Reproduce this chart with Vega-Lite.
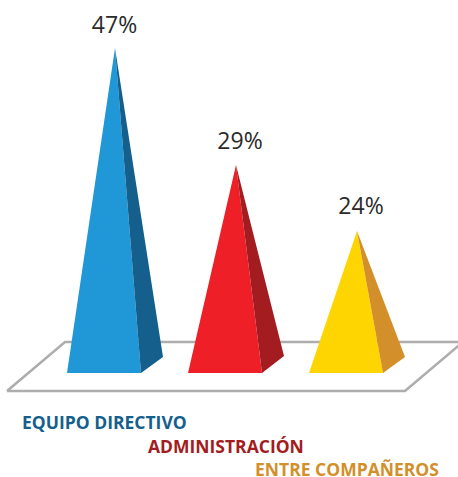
{"$schema":"https://vega.github.io/schema/vega-lite/v6.json","width":458,"height":477,"padding":0,"autosize":"none","background":"white","view":{"stroke":null},
"datasets":{
"platform":[{"i":1,"x":7,"y":391},{"i":2,"x":65,"y":342},{"i":3,"x":463,"y":342},{"i":4,"x":405,"y":391},{"i":5,"x":7,"y":391}],
"faces":[
{"part":"EQUIPO DIRECTIVO front","x":67,"y":373,"y2":373},{"part":"EQUIPO DIRECTIVO front","x":115,"y":48,"y2":373},{"part":"EQUIPO DIRECTIVO front","x":141,"y":373,"y2":373},
{"part":"EQUIPO DIRECTIVO side","x":115,"y":48,"y2":48},{"part":"EQUIPO DIRECTIVO side","x":141,"y":215.4,"y2":373},{"part":"EQUIPO DIRECTIVO side","x":163,"y":357,"y2":357},
{"part":"ADMINISTRACIÓN front","x":188,"y":373,"y2":373},{"part":"ADMINISTRACIÓN front","x":236,"y":165,"y2":373},{"part":"ADMINISTRACIÓN front","x":262,"y":373,"y2":373},
{"part":"ADMINISTRACIÓN side","x":236,"y":165,"y2":165},{"part":"ADMINISTRACIÓN side","x":262,"y":268.5,"y2":373},{"part":"ADMINISTRACIÓN side","x":284,"y":356,"y2":356},
{"part":"ENTRE COMPAÑEROS front","x":309,"y":373,"y2":373},{"part":"ENTRE COMPAÑEROS front","x":357,"y":231,"y2":373},{"part":"ENTRE COMPAÑEROS front","x":383,"y":373,"y2":373},
{"part":"ENTRE COMPAÑEROS side","x":357,"y":231,"y2":231},{"part":"ENTRE COMPAÑEROS side","x":383,"y":299.25,"y2":373},{"part":"ENTRE COMPAÑEROS side","x":405,"y":357,"y2":357}],
"pct":[{"label":"47%","x":114.5,"y":26},{"label":"29%","x":240,"y":142},{"label":"24%","x":361,"y":207}],
"names":[{"label":"EQUIPO DIRECTIVO","part":"EQUIPO DIRECTIVO side","x":22,"y":423.5},{"label":"ADMINISTRACIÓN","part":"ADMINISTRACIÓN side","x":148,"y":448},{"label":"ENTRE COMPAÑEROS","part":"ENTRE COMPAÑEROS side","x":255,"y":471}]},
"encoding":{"x":{"field":"x","type":"quantitative","scale":{"domain":[0,458],"nice":false,"zero":false},"axis":null},"y":{"field":"y","type":"quantitative","scale":{"domain":[477,0],"nice":false,"zero":false},"axis":null}},
"layer":[
{"data":{"name":"platform"},"mark":{"type":"line","color":"#adadad","strokeWidth":2.5,"clip":true},"encoding":{"order":{"field":"i"}}},
{"data":{"name":"faces"},"mark":{"type":"area"},"encoding":{"y2":{"field":"y2"},"color":{"field":"part","type":"nominal","legend":null,"scale":{"domain":["EQUIPO DIRECTIVO front","EQUIPO DIRECTIVO side","ADMINISTRACIÓN front","ADMINISTRACIÓN side","ENTRE COMPAÑEROS front","ENTRE COMPAÑEROS side"],"range":["#2097d6","#155f8c","#ee1f27","#a21c20","#ffd500","#d28f2a"]}},"opacity":{"value":1}}},
{"data":{"name":"pct"},"mark":{"type":"text","font":"Open Sans","fontSize":23,"color":"#2a2a2a","align":"center","baseline":"middle"},"encoding":{"text":{"field":"label"}}},
{"data":{"name":"names"},"mark":{"type":"text","font":"Open Sans","fontSize":17.5,"fontWeight":"bold","align":"left","baseline":"middle"},"encoding":{"text":{"field":"label"},"color":{"field":"part","type":"nominal","legend":null}}}
]}
